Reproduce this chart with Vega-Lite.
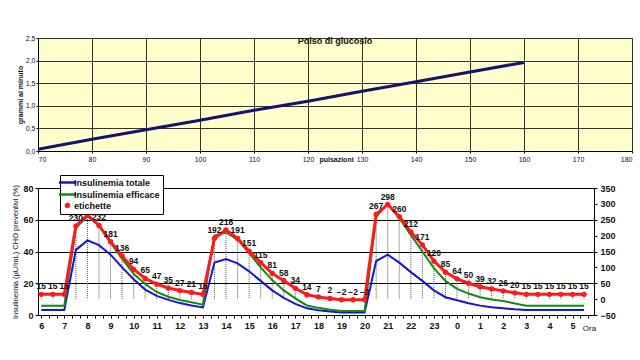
{
  "$schema": "https://vega.github.io/schema/vega-lite/v6.json",
  "padding": {"top": 33, "left": 11, "right": 5, "bottom": 0},
  "spacing": 37,
  "bounds": "flush",
  "resolve": {"scale": {"color": "independent"}, "legend": {"color": "independent"}},
  "config": {
    "font": "Liberation Sans",
    "axis": {"domainColor": "#000", "tickColor": "#000", "labelColor": "#111", "titleColor": "#111", "gridColor": "#333", "gridOpacity": 1, "tickSize": 3, "labelOverlap": false}
  },
  "datasets": {
    "pulse": [
      {"p": 70, "g": 0.04}, {"p": 80, "g": 0.26}, {"p": 90, "g": 0.47}, {"p": 100, "g": 0.68},
      {"p": 110, "g": 0.9}, {"p": 120, "g": 1.1}, {"p": 130, "g": 1.32}, {"p": 140, "g": 1.53},
      {"p": 150, "g": 1.75}, {"p": 160, "g": 1.96}
    ],
    "ins": [
      {"t": 6, "serie": "Insulinemia totale", "v": 3.2}, {"t": 6.5, "serie": "Insulinemia totale", "v": 3.2},
      {"t": 7, "serie": "Insulinemia totale", "v": 3.2}, {"t": 7.5, "serie": "Insulinemia totale", "v": 41},
      {"t": 8, "serie": "Insulinemia totale", "v": 47}, {"t": 8.5, "serie": "Insulinemia totale", "v": 44},
      {"t": 9, "serie": "Insulinemia totale", "v": 38}, {"t": 9.5, "serie": "Insulinemia totale", "v": 30},
      {"t": 10, "serie": "Insulinemia totale", "v": 22.5}, {"t": 10.5, "serie": "Insulinemia totale", "v": 16},
      {"t": 11, "serie": "Insulinemia totale", "v": 12}, {"t": 11.5, "serie": "Insulinemia totale", "v": 9.5},
      {"t": 12, "serie": "Insulinemia totale", "v": 7.5}, {"t": 12.5, "serie": "Insulinemia totale", "v": 6},
      {"t": 13, "serie": "Insulinemia totale", "v": 4.8}, {"t": 13.5, "serie": "Insulinemia totale", "v": 33},
      {"t": 14, "serie": "Insulinemia totale", "v": 35.2}, {"t": 14.5, "serie": "Insulinemia totale", "v": 32.5},
      {"t": 15, "serie": "Insulinemia totale", "v": 27.5}, {"t": 15.5, "serie": "Insulinemia totale", "v": 21.5},
      {"t": 16, "serie": "Insulinemia totale", "v": 15.5}, {"t": 16.5, "serie": "Insulinemia totale", "v": 10.8},
      {"t": 17, "serie": "Insulinemia totale", "v": 7}, {"t": 17.5, "serie": "Insulinemia totale", "v": 4.2},
      {"t": 18, "serie": "Insulinemia totale", "v": 3}, {"t": 18.5, "serie": "Insulinemia totale", "v": 2.2},
      {"t": 19, "serie": "Insulinemia totale", "v": 1.6}, {"t": 19.5, "serie": "Insulinemia totale", "v": 1.5},
      {"t": 20, "serie": "Insulinemia totale", "v": 1.5}, {"t": 20.5, "serie": "Insulinemia totale", "v": 34},
      {"t": 21, "serie": "Insulinemia totale", "v": 38}, {"t": 21.5, "serie": "Insulinemia totale", "v": 33},
      {"t": 22, "serie": "Insulinemia totale", "v": 27}, {"t": 22.5, "serie": "Insulinemia totale", "v": 21.5},
      {"t": 23, "serie": "Insulinemia totale", "v": 15.5}, {"t": 23.5, "serie": "Insulinemia totale", "v": 11.2},
      {"t": 24, "serie": "Insulinemia totale", "v": 9.3}, {"t": 24.5, "serie": "Insulinemia totale", "v": 7.4},
      {"t": 25, "serie": "Insulinemia totale", "v": 5.9}, {"t": 25.5, "serie": "Insulinemia totale", "v": 4.9},
      {"t": 26, "serie": "Insulinemia totale", "v": 4.2}, {"t": 26.5, "serie": "Insulinemia totale", "v": 3.6},
      {"t": 27, "serie": "Insulinemia totale", "v": 3.2}, {"t": 27.5, "serie": "Insulinemia totale", "v": 3.2},
      {"t": 28, "serie": "Insulinemia totale", "v": 3.2}, {"t": 28.5, "serie": "Insulinemia totale", "v": 3.2},
      {"t": 29, "serie": "Insulinemia totale", "v": 3.2}, {"t": 29.5, "serie": "Insulinemia totale", "v": 3.2},
      {"t": 6, "serie": "Insulinemia efficace", "v": 5.9}, {"t": 6.5, "serie": "Insulinemia efficace", "v": 5.9},
      {"t": 7, "serie": "Insulinemia efficace", "v": 5.9}, {"t": 7.5, "serie": "Insulinemia efficace", "v": 55},
      {"t": 8, "serie": "Insulinemia efficace", "v": 62}, {"t": 8.5, "serie": "Insulinemia efficace", "v": 56.5},
      {"t": 9, "serie": "Insulinemia efficace", "v": 45.5}, {"t": 9.5, "serie": "Insulinemia efficace", "v": 35.5},
      {"t": 10, "serie": "Insulinemia efficace", "v": 26}, {"t": 10.5, "serie": "Insulinemia efficace", "v": 19.5},
      {"t": 11, "serie": "Insulinemia efficace", "v": 14.5}, {"t": 11.5, "serie": "Insulinemia efficace", "v": 11.5},
      {"t": 12, "serie": "Insulinemia efficace", "v": 9.5}, {"t": 12.5, "serie": "Insulinemia efficace", "v": 8},
      {"t": 13, "serie": "Insulinemia efficace", "v": 6.5}, {"t": 13.5, "serie": "Insulinemia efficace", "v": 50},
      {"t": 14, "serie": "Insulinemia efficace", "v": 52}, {"t": 14.5, "serie": "Insulinemia efficace", "v": 47.5},
      {"t": 15, "serie": "Insulinemia efficace", "v": 39}, {"t": 15.5, "serie": "Insulinemia efficace", "v": 30},
      {"t": 16, "serie": "Insulinemia efficace", "v": 22}, {"t": 16.5, "serie": "Insulinemia efficace", "v": 15.5},
      {"t": 17, "serie": "Insulinemia efficace", "v": 10.5}, {"t": 17.5, "serie": "Insulinemia efficace", "v": 6},
      {"t": 18, "serie": "Insulinemia efficace", "v": 4.5}, {"t": 18.5, "serie": "Insulinemia efficace", "v": 3.3},
      {"t": 19, "serie": "Insulinemia efficace", "v": 2.5}, {"t": 19.5, "serie": "Insulinemia efficace", "v": 2.5},
      {"t": 20, "serie": "Insulinemia efficace", "v": 2.5}, {"t": 20.5, "serie": "Insulinemia efficace", "v": 62},
      {"t": 21, "serie": "Insulinemia efficace", "v": 70}, {"t": 21.5, "serie": "Insulinemia efficace", "v": 61},
      {"t": 22, "serie": "Insulinemia efficace", "v": 50.5}, {"t": 22.5, "serie": "Insulinemia efficace", "v": 40},
      {"t": 23, "serie": "Insulinemia efficace", "v": 29.5}, {"t": 23.5, "serie": "Insulinemia efficace", "v": 21.5},
      {"t": 24, "serie": "Insulinemia efficace", "v": 16.5}, {"t": 24.5, "serie": "Insulinemia efficace", "v": 13.5},
      {"t": 25, "serie": "Insulinemia efficace", "v": 11.2}, {"t": 25.5, "serie": "Insulinemia efficace", "v": 9.8},
      {"t": 26, "serie": "Insulinemia efficace", "v": 8.8}, {"t": 26.5, "serie": "Insulinemia efficace", "v": 7.3},
      {"t": 27, "serie": "Insulinemia efficace", "v": 5.9}, {"t": 27.5, "serie": "Insulinemia efficace", "v": 5.9},
      {"t": 28, "serie": "Insulinemia efficace", "v": 5.9}, {"t": 28.5, "serie": "Insulinemia efficace", "v": 5.9},
      {"t": 29, "serie": "Insulinemia efficace", "v": 5.9}, {"t": 29.5, "serie": "Insulinemia efficace", "v": 5.9}
    ],
    "gl": [
      {"t": 6, "gl": 15}, {"t": 6.5, "gl": 15}, {"t": 7, "gl": 15}, {"t": 7.5, "gl": 230},
      {"t": 8, "gl": 265}, {"t": 8.5, "gl": 232}, {"t": 9, "gl": 181}, {"t": 9.5, "gl": 136},
      {"t": 10, "gl": 94}, {"t": 10.5, "gl": 65}, {"t": 11, "gl": 47}, {"t": 11.5, "gl": 35},
      {"t": 12, "gl": 27}, {"t": 12.5, "gl": 21}, {"t": 13, "gl": 15}, {"t": 13.5, "gl": 192},
      {"t": 14, "gl": 218}, {"t": 14.5, "gl": 191}, {"t": 15, "gl": 151}, {"t": 15.5, "gl": 115},
      {"t": 16, "gl": 81}, {"t": 16.5, "gl": 58}, {"t": 17, "gl": 34}, {"t": 17.5, "gl": 14},
      {"t": 18, "gl": 7}, {"t": 18.5, "gl": 2}, {"t": 19, "gl": -2}, {"t": 19.5, "gl": -2},
      {"t": 20, "gl": -2}, {"t": 20.5, "gl": 267}, {"t": 21, "gl": 298}, {"t": 21.5, "gl": 260},
      {"t": 22, "gl": 212}, {"t": 22.5, "gl": 171}, {"t": 23, "gl": 120}, {"t": 23.5, "gl": 85},
      {"t": 24, "gl": 64}, {"t": 24.5, "gl": 50}, {"t": 25, "gl": 39}, {"t": 25.5, "gl": 32},
      {"t": 26, "gl": 26}, {"t": 26.5, "gl": 20}, {"t": 27, "gl": 15}, {"t": 27.5, "gl": 15},
      {"t": 28, "gl": 15}, {"t": 28.5, "gl": 15}, {"t": 29, "gl": 15}, {"t": 29.5, "gl": 15}
    ]
  },
  "vconcat": [
    {
      "width": 594,
      "height": 113,
      "title": {"text": "Polso di glucosio", "fontSize": 9, "fontWeight": "bold", "color": "#111", "anchor": "middle", "baseline": "middle", "offset": -16},
      "view": {"fill": "#FFFFCC", "stroke": "#555"},
      "data": {"name": "pulse"},
      "mark": {"type": "line", "color": "#14146e", "strokeWidth": 3},
      "encoding": {
        "x": {"field": "p", "type": "quantitative", "scale": {"domain": [70, 180], "nice": false, "zero": false},
          "axis": {"values": [70, 80, 90, 100, 110, 120, 130, 140, 150, 160, 170, 180], "grid": true, "labelFontSize": 7, "labelPadding": 2, "tickSize": 2, "labelOverlap": false,
            "title": "pulsazioni", "titleFontSize": 7, "titleFontWeight": "bold", "titleX": 298, "titleY": 8, "titleBaseline": "middle"}},
        "y": {"field": "g", "type": "quantitative", "scale": {"domain": [0, 2.5], "nice": false},
          "axis": {"values": [0, 0.5, 1, 1.5, 2, 2.5], "grid": true, "labelFontSize": 7, "labelPadding": 1, "tickSize": 2, "labelOverlap": false,
            "labelExpr": "replace(format(datum.value, '.1f'), '.', ',')",
            "title": "grammi al minuto", "titleFontSize": 7, "titleFontWeight": "bold", "titlePadding": 2}}
      }
    },
    {
      "width": 556,
      "height": 127,
      "view": {"stroke": "#000"},
      "resolve": {"scale": {"y": "independent"}},
      "encoding": {
        "x": {"field": "t", "type": "quantitative", "scale": {"domain": [5.86, 29.93], "nice": false, "zero": false},
          "axis": {"values": [6,6.333,6.667,7,7.333,7.667,8,8.333,8.667,9,9.333,9.667,10,10.333,10.667,11,11.333,11.667,12,12.333,12.667,13,13.333,13.667,14,14.333,14.667,15,15.333,15.667,16,16.333,16.667,17,17.333,17.667,18,18.333,18.667,19,19.333,19.667,20,20.333,20.667,21,21.333,21.667,22,22.333,22.667,23,23.333,23.667,24,24.333,24.667,25,25.333,25.667,26,26.333,26.667,27,27.333,27.667,28,28.333,28.667,29,29.333,29.667],
            "labelExpr": "abs(datum.value - round(datum.value)) < 0.01 ? '' + (round(datum.value) % 24) : ''",
            "labelFontSize": 9, "labelFontWeight": "bold", "labelPadding": 3, "labelFlush": false, "labelOverlap": false, "labelBound": false, "grid": false,
            "title": "Ora", "titleFontSize": 8, "titleFontWeight": "normal", "titleX": 551, "titleY": 13, "titleBaseline": "middle"}}
      },
      "layer": [
        {
          "data": {"name": "gl"},
          "mark": {"type": "rule", "color": "#555", "strokeWidth": 1, "strokeDash": [1, 1]},
          "encoding": {
            "y": {"field": "gl", "type": "quantitative", "scale": {"domain": [-50, 350], "nice": false}, "axis": null},
            "y2": {"datum": 0}
          }
        },
        {
          "data": {"name": "ins"},
          "mark": {"type": "line", "strokeWidth": 2},
          "encoding": {
            "y": {"field": "v", "type": "quantitative", "scale": {"domain": [0, 80], "nice": false},
              "axis": {"values": [0, 20, 40, 60, 80], "grid": true, "gridColor": "#000", "labelFontSize": 9, "labelFontWeight": "bold", "labelPadding": 2, "labelOverlap": false,
                "title": "Insulinemia (µU/mL)    CHO preventivi (%)", "titleFontSize": 7.5, "titleFontWeight": "normal", "titlePadding": 3}},
            "color": {"field": "serie", "type": "nominal",
              "scale": {"domain": ["Insulinemia totale", "Insulinemia efficace", "etichette"], "range": ["#1515d6", "#128a12", "#ff1a1a"]},
              "legend": {"orient": "none", "legendX": 22, "legendY": -13, "title": null, "fillColor": "white", "strokeColor": "#000",
                "padding": 3, "labelFontSize": 9, "labelFontWeight": "bold", "labelColor": "#111", "symbolStrokeWidth": 2.5, "rowPadding": 1,
                "labelOffset": 2, "symbolType": "stroke", "symbolSize": 300,
                "encode": {"symbols": {"update": {
                  "shape": {"signal": "datum.value === 'etichette' ? 'circle' : 'stroke'"},
                  "size": {"signal": "datum.value === 'etichette' ? 30 : 300"},
                  "fill": {"signal": "datum.value === 'etichette' ? '#ff1a1a' : 'transparent'"},
                  "strokeWidth": {"signal": "datum.value === 'etichette' ? 0 : 2.5"}
                }}}}}
          }
        },
        {
          "data": {"name": "gl"},
          "encoding": {
            "y": {"field": "gl", "type": "quantitative", "scale": {"domain": [-50, 350], "nice": false},
              "axis": {"orient": "right", "values": [-50, 0, 50, 100, 150, 200, 250, 300, 350], "grid": false, "labelFontSize": 9, "labelFontWeight": "bold", "labelPadding": 3, "labelOverlap": false, "title": null}}
          },
          "layer": [
            {"mark": {"type": "line", "color": "#ff1a1a", "strokeWidth": 3}},
            {"mark": {"type": "point", "filled": true, "color": "#ff1a1a", "size": 28, "opacity": 1}},
            {"mark": {"type": "text", "fontSize": 8.5, "fontWeight": "bold", "color": "#111", "dy": -8}, "encoding": {"text": {"field": "gl", "type": "quantitative", "format": "d"}}}
          ]
        }
      ]
    }
  ]
}
